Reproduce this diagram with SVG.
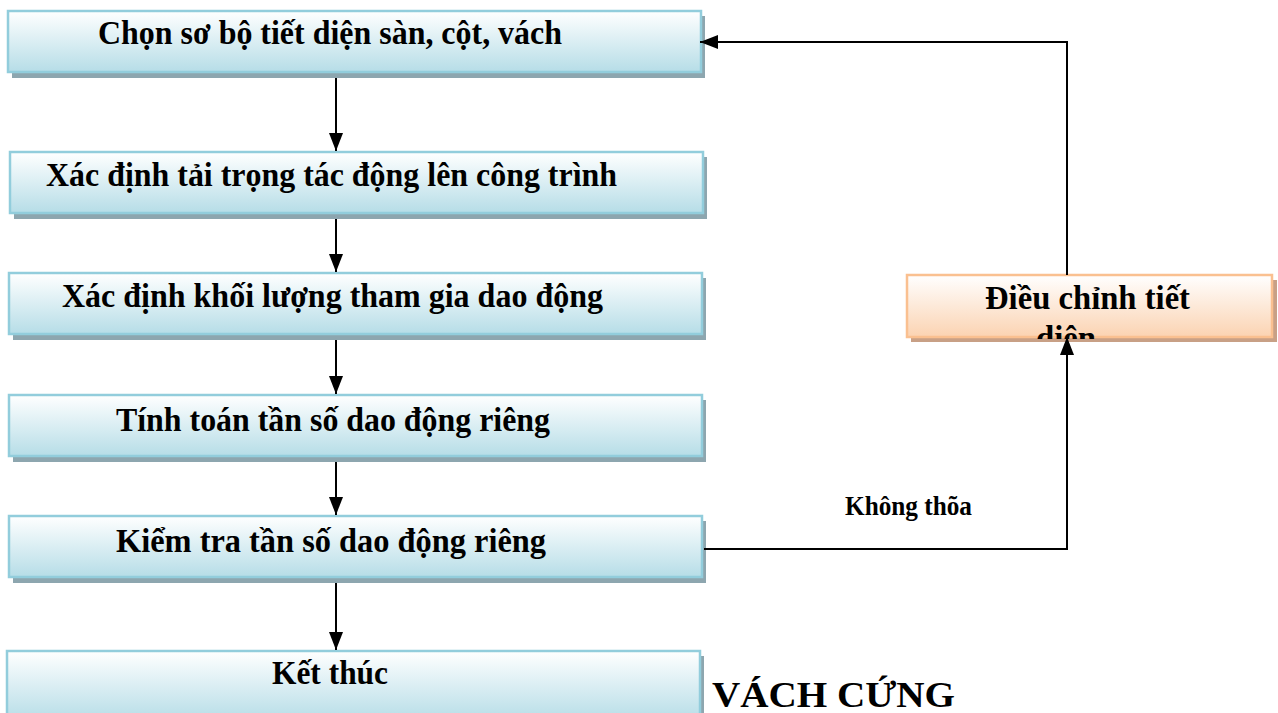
<svg xmlns="http://www.w3.org/2000/svg" width="1278" height="713" viewBox="0 0 1278 713">
  <style>
    .box { fill: url(#gBlue); stroke: #92CDDC; stroke-width: 2.5; }
    .shadow { fill: #8DA6AF; }
    .obox { fill: url(#gOrange); stroke: #FAC090; stroke-width: 2.5; }
    .oshadow { fill: #C8A086; }
    .t { font-family: "Liberation Serif", "Times New Roman", serif; font-weight: bold; fill: #000; }
    .conn { fill: none; stroke: #000; stroke-width: 2; }
  </style>
  <defs>
    <linearGradient id="gBlue" x1="0" y1="0" x2="0" y2="1">
      <stop offset="0" stop-color="#FFFFFF"/>
      <stop offset="1" stop-color="#B6DDE7"/>
    </linearGradient>
    <linearGradient id="gOrange" x1="0" y1="0" x2="0" y2="1">
      <stop offset="0" stop-color="#FFFFFF"/>
      <stop offset="1" stop-color="#FBD3B2"/>
    </linearGradient>
    <marker id="arr" viewBox="0 0 18 14" refX="18" refY="7" markerWidth="18" markerHeight="14" orient="auto" markerUnits="userSpaceOnUse">
      <path d="M0,0 L18,7 L0,14 z" fill="#000"/>
    </marker>
    <clipPath id="oclip"><rect x="905" y="270" width="373" height="69"/></clipPath>
  </defs>

  <g id="n1">
    <rect class="shadow" x="12" y="16" width="693" height="62"/>
    <rect class="box" x="8" y="11" width="693" height="61"/>
    <text class="t" font-size="33" x="98" y="44" textLength="464" lengthAdjust="spacingAndGlyphs">Chọn sơ bộ tiết diện sàn, cột, vách</text>
  </g>
  <g id="n2">
    <rect class="shadow" x="14" y="157" width="693" height="62"/>
    <rect class="box" x="10" y="152" width="693" height="61"/>
    <text class="t" font-size="33" x="46" y="186" textLength="571" lengthAdjust="spacingAndGlyphs">Xác định tải trọng tác động lên công trình</text>
  </g>
  <g id="n3">
    <rect class="shadow" x="13" y="278" width="693" height="62"/>
    <rect class="box" x="9" y="273" width="693" height="61"/>
    <text class="t" font-size="33" x="62" y="307" textLength="541" lengthAdjust="spacingAndGlyphs">Xác định khối lượng tham gia dao động</text>
  </g>
  <g id="n4">
    <rect class="shadow" x="13" y="400" width="693" height="62"/>
    <rect class="box" x="9" y="395" width="693" height="61"/>
    <text class="t" font-size="33" x="116" y="431" textLength="434" lengthAdjust="spacingAndGlyphs">Tính toán tần số dao động riêng</text>
  </g>
  <g id="n5">
    <rect class="shadow" x="13" y="521" width="693" height="62"/>
    <rect class="box" x="9" y="516" width="693" height="61"/>
    <text class="t" font-size="33" x="116" y="552" textLength="430" lengthAdjust="spacingAndGlyphs">Kiểm tra tần số dao động riêng</text>
  </g>
  <g id="n6">
    <rect class="shadow" x="11" y="656" width="693" height="62"/>
    <rect class="box" x="7" y="651" width="693" height="70"/>
    <text class="t" font-size="33" x="272" y="684" textLength="116" lengthAdjust="spacingAndGlyphs">Kết thúc</text>
  </g>
  <g id="n7">
    <rect class="oshadow" x="911" y="280" width="366" height="62"/>
    <rect class="obox" x="907" y="275" width="365" height="62"/>
    <text class="t" font-size="33" x="985" y="309" textLength="205" lengthAdjust="spacingAndGlyphs">Điều chỉnh tiết</text>
    <text class="t" font-size="33" x="1036" y="349" textLength="60" lengthAdjust="spacingAndGlyphs" clip-path="url(#oclip)">diện</text>
  </g>

  <g id="connectors">
    <line class="conn" x1="336" y1="78" x2="336" y2="151" marker-end="url(#arr)"/>
    <line class="conn" x1="336" y1="219" x2="336" y2="272" marker-end="url(#arr)"/>
    <line class="conn" x1="336" y1="340" x2="336" y2="394" marker-end="url(#arr)"/>
    <line class="conn" x1="336" y1="462" x2="336" y2="515" marker-end="url(#arr)"/>
    <line class="conn" x1="336" y1="583" x2="336" y2="650" marker-end="url(#arr)"/>
    <polyline class="conn" points="704,549 1067,549 1067,337" marker-end="url(#arr)"/>
    <polyline class="conn" points="1067,275 1067,42 700,42" marker-end="url(#arr)"/>
  </g>

  <g id="labels">
    <text class="t" font-size="27" x="845" y="515" textLength="127" lengthAdjust="spacingAndGlyphs">Không thõa</text>
    <text class="t" font-size="36" x="712" y="707" textLength="243" lengthAdjust="spacingAndGlyphs">VÁCH CỨNG</text>
  </g>
</svg>
